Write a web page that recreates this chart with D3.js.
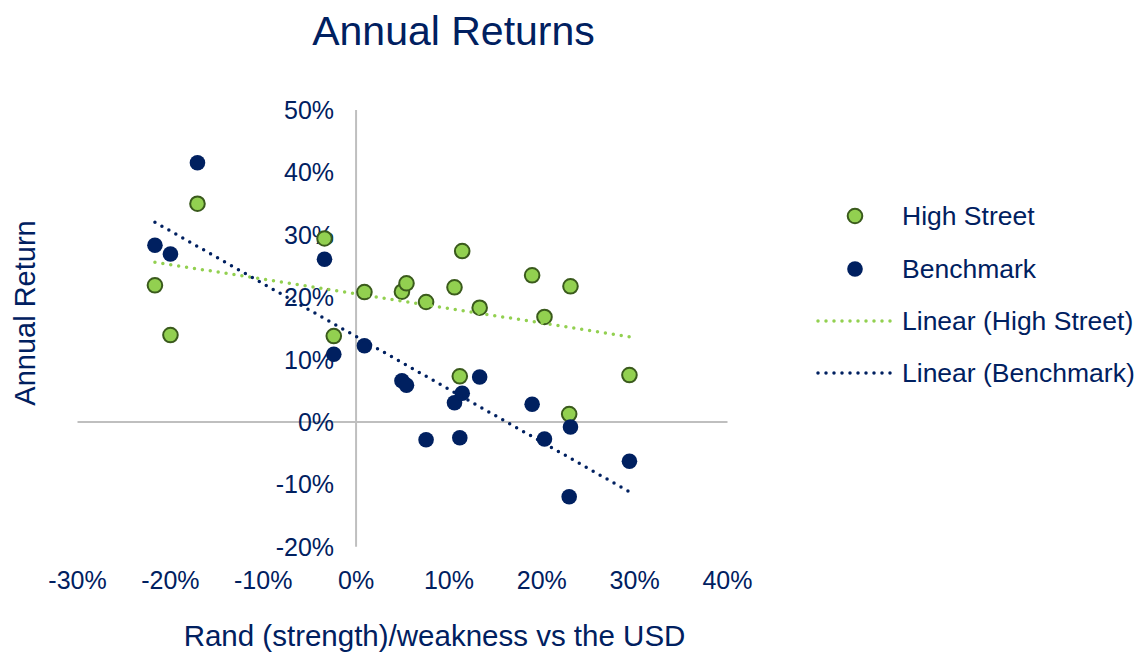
<!DOCTYPE html>
<html>
<head>
<meta charset="utf-8">
<script src="https://cdn.jsdelivr.net/npm/d3@7"></script>
<style>
  body { margin: 0; background: #fff; }
  text { font-family: "Liberation Sans", Arial, sans-serif; fill: #002060; }
</style>
</head>
<body>
<div id="chart"></div>
<script>
// Rand move vs USD (%), one value per year
var randMove = [-21.66, -19.99, -17.08, -3.40, -2.40, 0.90, 4.94, 5.43, 7.54,
    10.60, 11.17, 11.43, 13.31, 18.96, 20.29, 22.95, 23.09, 29.44];
// Annual returns (%)
var highStreet = [21.91, 13.94, 34.98, 29.41, 13.78, 20.83, 20.88, 22.23, 19.23,
    21.59, 7.32, 27.40, 18.32, 23.51, 16.83, 1.28, 21.75, 7.53];
var benchmark = [28.32, 26.92, 41.55, 26.07, 10.85, 12.23, 6.62, 5.88, -2.84,
    3.09, -2.52, 4.60, 7.21, 2.84, -2.72, -11.97, -0.80, -6.30];

var xTicks = [-30, -20, -10, 0, 10, 20, 30, 40];
var yTicks = [-20, -10, 0, 10, 20, 30, 40, 50];
var seriesNames = ["High Street", "Benchmark"];
var trendNames = ["Linear (High Street)", "Linear (Benchmark)"];

var width = 1137, height = 654;
var green = "#92d050", greenEdge = "#3a5a1c", navy = "#002060";

var svg = d3.select("#chart").append("svg")
    .attr("width", width)
    .attr("height", height);

var x = d3.scaleLinear().domain([-30, 40]).range([77.5, 727.5]);
var y = d3.scaleLinear().domain([-20, 50]).range([546.8, 110]);

// title
svg.append("text")
    .attr("x", 453.5).attr("y", 45)
    .attr("text-anchor", "middle")
    .style("font-size", "41px")
    .text("Annual Returns");

// axis lines crossing at zero
svg.append("line")
    .attr("x1", x(-30)).attr("x2", x(40))
    .attr("y1", y(0)).attr("y2", y(0))
    .attr("stroke", "#bfbfbf").attr("stroke-width", 2);
svg.append("line")
    .attr("x1", x(0)).attr("x2", x(0))
    .attr("y1", y(50)).attr("y2", y(-20))
    .attr("stroke", "#bfbfbf").attr("stroke-width", 2);

// tick labels
svg.append("g").selectAll("text")
    .data(yTicks)
    .enter().append("text")
    .attr("x", x(0) - 22)
    .attr("y", d => y(d) + 9)
    .attr("text-anchor", "end")
    .style("font-size", "25px")
    .text(d => d + "%");

svg.append("g").selectAll("text")
    .data(xTicks)
    .enter().append("text")
    .attr("x", d => x(d))
    .attr("y", 589)
    .attr("text-anchor", "middle")
    .style("font-size", "25px")
    .text(d => d + "%");

// axis titles
svg.append("text")
    .attr("transform", "translate(35,313) rotate(-90)")
    .attr("text-anchor", "middle")
    .style("font-size", "29px")
    .text("Annual Return");
svg.append("text")
    .attr("x", 434.5).attr("y", 646)
    .attr("text-anchor", "middle")
    .style("font-size", "29.5px")
    .text("Rand (strength)/weakness vs the USD");

// points
var hsData = randMove.map((v, i) => [v, highStreet[i]]);
var bmData = randMove.map((v, i) => [v, benchmark[i]]);

svg.append("g").selectAll("circle")
    .data(hsData)
    .enter().append("circle")
    .attr("cx", d => x(d[0]))
    .attr("cy", d => y(d[1]))
    .attr("r", 7.3)
    .attr("fill", green)
    .attr("stroke", greenEdge)
    .attr("stroke-width", 2);

svg.append("g").selectAll("circle")
    .data(bmData)
    .enter().append("circle")
    .attr("cx", d => x(d[0]))
    .attr("cy", d => y(d[1]))
    .attr("r", 7.8)
    .attr("fill", navy);

// least-squares trendlines
function fit(pts) {
    var mx = d3.mean(pts, d => d[0]), my = d3.mean(pts, d => d[1]);
    var sxy = d3.sum(pts, d => (d[0] - mx) * (d[1] - my));
    var sxx = d3.sum(pts, d => (d[0] - mx) * (d[0] - mx));
    var b = sxy / sxx, a = my - b * mx;
    var ext = d3.extent(pts, d => d[0]);
    return ext.map(v => [v, a + b * v]);
}

var line = d3.line().x(d => x(d[0])).y(d => y(d[1]));

[[hsData, green], [bmData, navy]].forEach(function (s) {
    svg.append("path")
        .attr("d", line(fit(s[0])))
        .attr("fill", "none")
        .attr("stroke", s[1])
        .attr("stroke-width", 3.5)
        .attr("stroke-linecap", "round")
        .attr("stroke-dasharray", "0 8");
});

// legend
var legend = svg.append("g").attr("class", "legend");
var rowY = [216, 269, 321, 373];

legend.append("circle")
    .attr("cx", 855).attr("cy", rowY[0]).attr("r", 7.3)
    .attr("fill", green).attr("stroke", greenEdge).attr("stroke-width", 2);
legend.append("circle")
    .attr("cx", 855).attr("cy", rowY[1]).attr("r", 7.8)
    .attr("fill", navy);
[green, navy].forEach(function (c, i) {
    legend.append("line")
        .attr("x1", 818).attr("x2", 893)
        .attr("y1", rowY[2 + i]).attr("y2", rowY[2 + i])
        .attr("stroke", c)
        .attr("stroke-width", 3.5)
        .attr("stroke-linecap", "round")
        .attr("stroke-dasharray", "0 8");
});

legend.selectAll("text.lab")
    .data(seriesNames.concat(trendNames))
    .enter().append("text")
    .attr("class", "lab")
    .attr("x", 902)
    .attr("y", (d, i) => rowY[i] + 9)
    .style("font-size", "26.5px")
    .text(d => d);
</script>
</body>
</html>
